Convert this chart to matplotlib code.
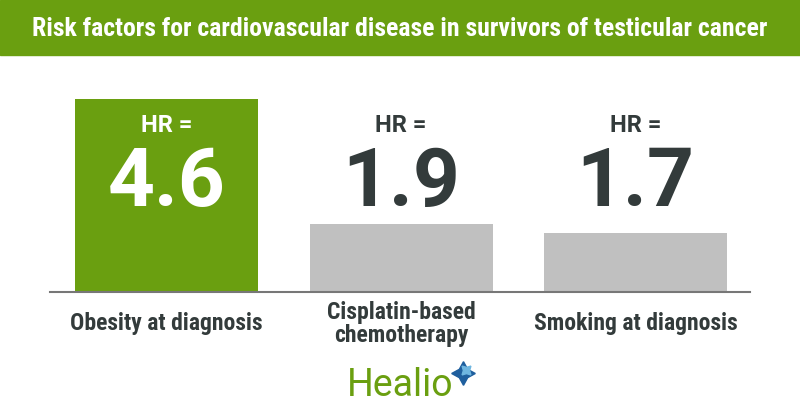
import matplotlib
matplotlib.use('Agg')
import matplotlib.pyplot as plt
from matplotlib.transforms import blended_transform_factory

# data
categories = ['Obesity at diagnosis', 'Cisplatin-based\nchemotherapy', 'Smoking at diagnosis']
hr_values = [4.6, 1.9, 1.7]
value_labels = ['4.6', '1.9', '1.7']
title = 'Risk factors for cardiovascular disease in survivors of testicular cancer'

COND = 'Roboto Condensed'
green = '#6a9f10'
gray = '#c0c0c0'
dark = '#333b3b'

fig = plt.figure(figsize=(8, 4.2), dpi=100)

# title bar
fig.patches.append(plt.Rectangle((0, 1 - 55 / 420), 1, 55 / 420, transform=fig.transFigure,
                                 color=green, zorder=0))
fig.text(0.5, 1 - 29 / 420, title, ha='center', va='center', color='white',
         fontsize=18.5, fontweight='bold', family=COND)

ax = fig.add_axes([50 / 800, 128 / 420, 700 / 800, 232 / 420])
x = range(len(hr_values))
colors = [green, gray, gray]
ax.bar(x, hr_values, width=0.78, color=colors, zorder=2)
ax.set_xlim(-0.497, 2.488)
ax.set_ylim(0.43, 5.44)
for s in ['top', 'right', 'left']:
    ax.spines[s].set_visible(False)
ax.spines['bottom'].set_color('#777777')
ax.spines['bottom'].set_linewidth(1.5)
ax.set_yticks([])
ax.set_xticks(list(x))
ax.set_xticklabels(categories, fontsize=17, fontweight='bold', color=dark, family=COND,
                   linespacing=1.0, va='center')
ax.tick_params(axis='x', length=0, pad=23)

tr = blended_transform_factory(ax.transData, fig.transFigure)
for i, v in enumerate(value_labels):
    c = 'white' if i == 0 else dark
    ax.text(i, 1 - 125 / 420, 'HR =', transform=tr, ha='center', va='center',
            color=c, fontsize=17, fontweight='bold', family='Roboto')
    ax.text(i, 1 - 184 / 420, v, transform=tr, ha='center', va='center',
            color=c, fontsize=59, fontweight='bold', family='Roboto')

# logo
fig.text(0.5, 1 - 385 / 420, 'Healio', ha='center', va='center', color=green,
         fontsize=27, family='Roboto')
fig.add_artist(plt.Line2D([463 / 800], [1 - 373 / 420], marker=(4, 1, 0), markersize=17,
                          color='#1f5f9e', transform=fig.transFigure))
fig.add_artist(plt.Line2D([466 / 800], [1 - 370 / 420], marker=(4, 1, 45), markersize=9,
                          color='#6fb6e0', transform=fig.transFigure))

fig.savefig('out.png', dpi=100)
